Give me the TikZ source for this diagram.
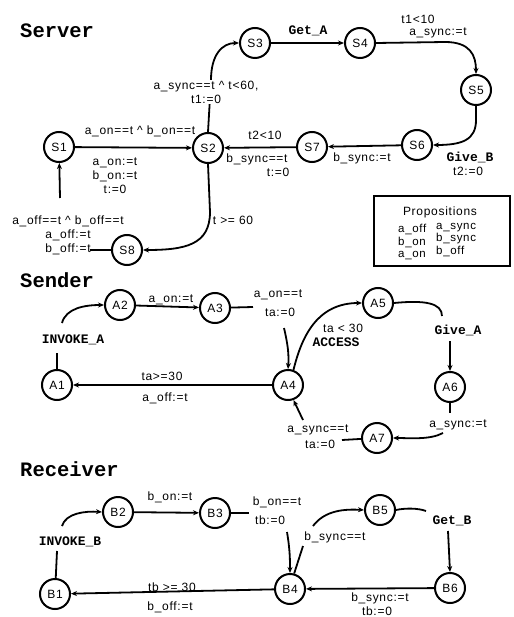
\documentclass[tikz,border=0pt]{standalone}
\usepackage{fontspec}
\setmainfont{Liberation Sans}
\newfontfamily\labfam[LetterSpace=6]{Liberation Sans}
\newfontfamily\monofam{Liberation Mono}
\usetikzlibrary{arrows.meta}
\newcommand\labfont{\labfam\fontsize{12}{14}\selectfont}
\newcommand\propfont{\labfam\fontsize{11.5}{12.5}\selectfont}
\newcommand\cmdfont{\monofam\bfseries\fontsize{13}{14}\selectfont}
\newcommand\ttlfont{\monofam\bfseries\fontsize{20.5}{22}\selectfont}
\tikzset{
 st/.style={circle,draw,line width=2pt,minimum size=30pt,inner sep=0pt,font=\labfont},
 tr/.style={line width=1.8pt,-{Stealth[length=6pt,width=5pt]}},
 ln/.style={line width=1.8pt},
 lab/.style={font=\labfont,inner sep=1pt,align=center},
 cmd/.style={font=\cmdfont,inner sep=1pt},
 ttl/.style={font=\ttlfont,anchor=base west,inner sep=0pt},
}
\begin{document}
\begin{tikzpicture}[x=1pt,y=-1pt]
\useasboundingbox (0,0) rectangle (513,617);
% ---------------- Server
\node[ttl] (tS) at (20,38) {Server};
\node[st] (S1) at (59,147) {S1};
\node[st] (S2) at (208,148) {S2};
\node[st] (S3) at (255,43) {S3};
\node[st] (S4) at (360,43) {S4};
\node[st] (S5) at (476,90) {S5};
\node[st] (S6) at (417,145) {S6};
\node[st] (S7) at (312,147) {S7};
\node[st] (S8) at (127,250) {S8};
\draw[tr] (S1) -- (S2);
\node[lab] (l12a) at (140,131) {a\_on==t \textasciicircum{} b\_on==t};
\node[lab] (l12b) at (115,176) {a\_on:=t\\b\_on:=t\\t:=0};
\draw[tr] (S2.north) -- (211,80) .. controls (211,55) and (222,43) .. (S3.west);
\node[lab,fill=white] (l23) at (206,92) {a\_sync==t \textasciicircum{} t<60,\\t1:=0};
\draw[tr] (S3) -- (S4);
\node[cmd] (lGA) at (308,31) {Get\_A};
\draw[tr] (S4.east) -- (445,42) .. controls (470,42) and (476,55) .. (S5.north);
\node[lab] (l45a) at (418,19) {t1<10};
\node[lab] (l45b) at (438,33) {a\_sync:=t};
\draw[tr] (S5.south) -- (476,120) .. controls (476,140) and (462,145) .. (S6.east);
\node[cmd] (lGB) at (470,157) {Give\_B};
\node[lab] (l56) at (468,171) {t2:=0};
\draw[tr] (S6) -- (S7);
\node[lab] (l67) at (362,158) {b\_sync:=t};
\draw[tr] (S7) -- (S2);
\node[lab] (l72a) at (265,135) {t2<10};
\node[lab] (l72b) at (257,159) {b\_sync==t};
\node[lab] (l72c) at (278,172) {t:=0};
\draw[tr] (S2.south) -- (210,212) .. controls (210,245) and (185,250) .. (S8.east);
\node[lab] (l28) at (233,220) {t >= 60};
\node[lab] (l81) at (68,235) {a\_off==t \textasciicircum{} b\_off==t\\a\_off:=t\\b\_off:=t};
\coordinate (e81) at (90,250);
\draw[ln] (S8) -- (e81);
\coordinate (f81) at (60,198);
\draw[tr] (f81) -- (S1);
% propositions
\node[draw,line width=2pt,minimum width=136pt,minimum height=70pt,inner sep=0pt] (prop) at (442,231) {};
\node[lab] (ptitle) at (440,212) {Propositions};
\node[font=\propfont,align=left,inner sep=0pt,anchor=west] (pl) at (398,242) {a\_off\\b\_on\\a\_on};
\node[font=\propfont,align=left,inner sep=0pt,anchor=west] (pr) at (436,240) {a\_sync\\b\_sync\\b\_off};
% ---------------- Sender
\node[ttl] (tA) at (20,287) {Sender};
\node[st] (A1) at (57,385) {A1};
\node[st] (A2) at (120,305) {A2};
\node[st] (A3) at (215,308) {A3};
\node[st] (A4) at (288,385) {A4};
\node[st] (A5) at (378,303) {A5};
\node[st] (A6) at (450,387) {A6};
\node[st] (A7) at (377,438) {A7};
\node[cmd] (invA) at (73,340) {INVOKE\_A};
\coordinate (ia1) at (57,353);
\draw[ln] (A1) -- (ia1);
\coordinate (ia2) at (62,323);
\draw[tr] (ia2) .. controls (66,308) and (85,305) .. (A2.west);
\draw[tr] (A2) -- (A3);
\node[lab] (l23a) at (171,300) {a\_on:=t};
\coordinate (a3e) at (253,307);
\draw[ln] (A3) -- (a3e);
\node[lab] (l34a) at (278,295) {a\_on==t};
\node[lab] (l34b) at (280,312) {ta:=0};
\coordinate (a34) at (284,328);
\draw[tr] (a34) .. controls (288,345) and (289,355) .. (A4.north);
\draw[tr] (A4.70) .. controls (302,335) and (318,303) .. (A5.west);
\node[lab] (l45s) at (343,328) {ta < 30};
\node[cmd] (lacc) at (336,342) {ACCESS};
\coordinate (a56) at (442,316);
\draw[ln] (A5.east) .. controls (425,300) and (442,303) .. (a56);
\node[cmd] (lGiA) at (458,330) {Give\_A};
\coordinate (a56b) at (450,341);
\draw[tr] (a56b) -- (A6);
\coordinate (a67) at (450,413);
\draw[ln] (A6) -- (a67);
\node[lab] (l67s) at (458,425) {a\_sync:=t};
\coordinate (a67b) at (443,433);
\draw[tr] (a67b) .. controls (430,440) and (410,438) .. (A7.east);
\coordinate (a74) at (342,440);
\draw[ln] (A7) -- (a74);
\node[lab] (l74a) at (318,430) {a\_sync==t};
\node[lab] (l74b) at (320,444) {ta:=0};
\coordinate (a74b) at (303,420);
\draw[tr] (a74b) -- (A4.-70);
\draw[tr] (A4) -- (A1);
\node[lab] (l41a) at (162,376) {ta>=30};
\node[lab] (l41b) at (165,398) {a\_off:=t};
% ---------------- Receiver
\node[ttl] (tB) at (20,476) {Receiver};
\node[st] (B1) at (55,594) {B1};
\node[st] (B2) at (118,512) {B2};
\node[st] (B3) at (215,513) {B3};
\node[st] (B4) at (290,589) {B4};
\node[st] (B5) at (380,510) {B5};
\node[st] (B6) at (450,588) {B6};
\node[cmd] (invB) at (70,542) {INVOKE\_B};
\coordinate (ib1) at (57,551);
\draw[ln] (B1) -- (ib1);
\coordinate (ib2) at (62,526);
\draw[tr] (ib2) .. controls (66,513) and (85,511) .. (B2.west);
\draw[tr] (B2) -- (B3);
\node[lab] (lb23) at (170,497) {b\_on:=t};
\coordinate (b3e) at (249,513);
\draw[ln] (B3) -- (b3e);
\node[lab] (lb34a) at (277,502) {b\_on==t};
\node[lab] (lb34b) at (270,520) {tb:=0};
\coordinate (b34) at (287,532);
\draw[tr] (b34) .. controls (290,550) and (290,560) .. (B4.north);
\coordinate (b45) at (303,546);
\draw[ln] (B4.75) -- (b45);
\node[lab] (lb45) at (335,537) {b\_sync==t};
\coordinate (b45b) at (313,526);
\draw[tr] (b45b) .. controls (325,510) and (345,509) .. (B5.west);
\coordinate (b56) at (426,511);
\draw[ln] (B5.east) .. controls (405,508) and (418,508) .. (b56);
\node[cmd] (lGeB) at (452,521) {Get\_B};
\coordinate (b56b) at (448,531);
\draw[tr] (b56b) -- (B6.north);
\draw[tr] (B6) -- (B4);
\node[lab] (lb64a) at (380,598) {b\_sync:=t};
\node[lab] (lb64b) at (377,611) {tb:=0};
\draw[tr] (B4) -- (B1);
\node[lab] (lb41a) at (172,587) {tb >= 30};
\node[lab] (lb41b) at (170,607) {b\_off:=t};
\end{tikzpicture}
\end{document}
